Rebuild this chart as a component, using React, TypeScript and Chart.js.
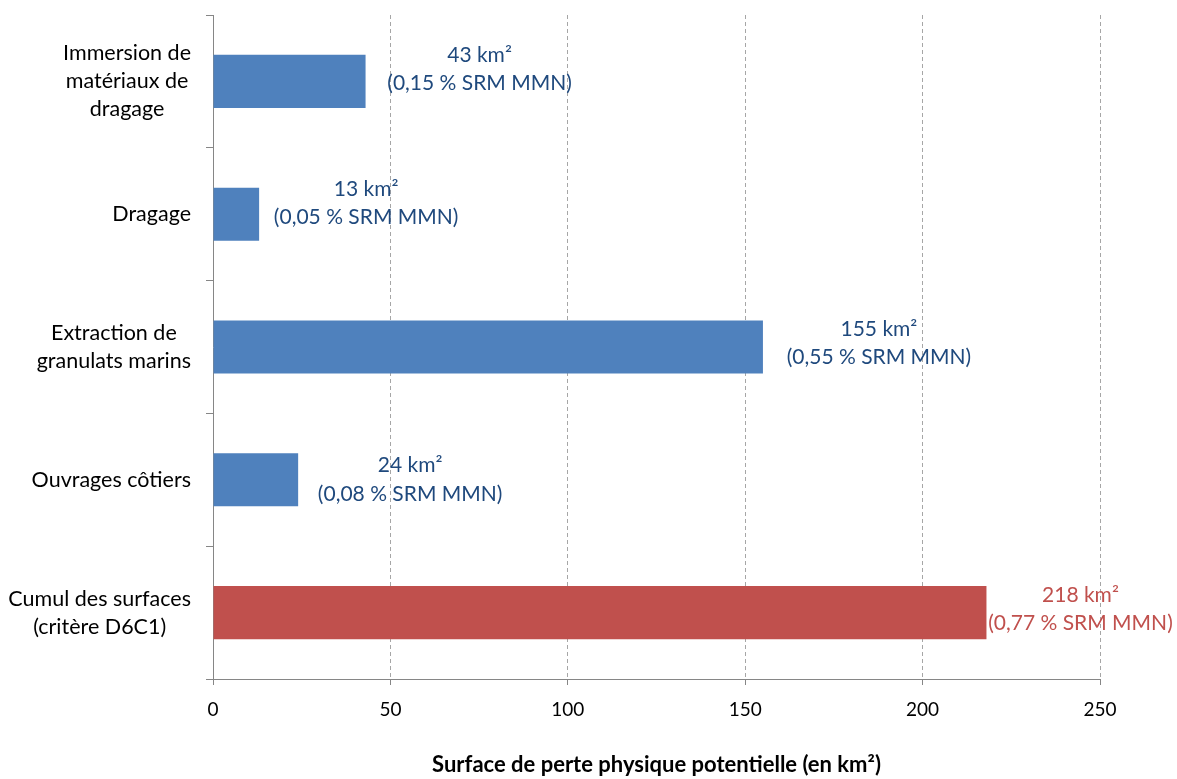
import React, { useEffect, useRef } from "react";
import { Chart, registerables } from "chart.js";

Chart.register(...registerables);

const categoryLines: string[][] = [
  ["Immersion de", "matériaux de", "dragage"],
  ["Dragage"],
  ["Extraction de", "granulats marins"],
  ["Ouvrages côtiers"],
  ["Cumul des surfaces", "(critère D6C1)"],
];
const surfaceKm2 = [43, 13, 155, 24, 218];
const shareSRM = ["0,15", "0,05", "0,55", "0,08", "0,77"];
const isTotal = [false, false, false, false, true];
const xTickStep = 50;
const xMax = 250;
const axisTitle = "Surface de perte physique potentielle (en km²)";

const FONT = "Lato, 'Open Sans', sans-serif";
const BLUE = "#4F81BD";
const RED = "#C0504D";
const BLUE_TEXT = "#1F497D";
const RED_TEXT = "#C0504D";
const AXIS = "#868686";
const GRID = "#A6A6A6";

const labelPlugin = {
  id: "customLabels",
  afterDatasetsDraw(chart: any) {
    const ctx = chart.ctx;
    const opts = chart.options.plugins.customLabels;
    const meta = chart.getDatasetMeta(0);
    const yScale = chart.scales.y;
    ctx.save();
    ctx.textAlign = "center";
    ctx.textBaseline = "middle";
    // category labels, each centred on its own widest line
    ctx.font = `${opts.catSize}px ${FONT}`;
    ctx.fillStyle = "#000000";
    categoryLines.forEach((lines, i) => {
      const cy = yScale.getPixelForValue(i);
      const w = Math.max(...lines.map((l) => ctx.measureText(l).width));
      const cx = opts.catRight - w / 2;
      lines.forEach((l, j) => {
        ctx.fillText(l, cx, cy + (j - (lines.length - 1) / 2) * opts.catGap);
      });
    });
    // data labels
    ctx.font = `${opts.valSize}px ${FONT}`;
    meta.data.forEach((bar: any, i: number) => {
      const [dx, dy] = opts.nudges[i];
      const cx = bar.x + dx;
      const cy = bar.y + dy;
      ctx.fillStyle = isTotal[i] ? RED_TEXT : BLUE_TEXT;
      ctx.fillText(`${surfaceKm2[i]} km²`, cx, cy - opts.valGap / 2);
      ctx.fillText(`(${shareSRM[i]} % SRM MMN)`, cx, cy + opts.valGap / 2);
    });
    ctx.restore();
  },
};

export default function App() {
  const ref = useRef<HTMLCanvasElement | null>(null);
  useEffect(() => {
    if (!ref.current) return;
    const chart = new Chart(ref.current, {
      type: "bar",
      data: {
        labels: categoryLines.map((l) => l.join(" ")),
        datasets: [
          {
            data: surfaceKm2,
            backgroundColor: isTotal.map((t) => (t ? RED : BLUE)),
            borderWidth: 0,
            barPercentage: 1,
            categoryPercentage: 0.4,
          },
        ],
      },
      options: {
        indexAxis: "y",
        animation: false,
        responsive: true,
        maintainAspectRatio: false,
        layout: { padding: { top: 15, right: 77, left: 0, bottom: 0 } },
        plugins: {
          legend: { display: false },
          tooltip: { enabled: false },
          customLabels: {
            catSize: 21.5,
            catGap: 28,
            catRight: 191,
            valSize: 21,
            valGap: 28.5,
            nudges: [
              [114, -12],
              [107, -11],
              [116, -4],
              [112, 0],
              [94, -3.5],
            ],
          },
        } as any,
        scales: {
          x: {
            type: "linear",
            min: 0,
            max: xMax,
            ticks: {
              stepSize: xTickStep,
              font: { family: FONT, size: 19 },
              color: "#000000",
              padding: 13,
            },
            grid: {
              color: (c: any) => (c.tick && c.tick.value === 0 ? "rgba(0,0,0,0)" : GRID),
              lineWidth: 1,
              tickLength: 6,
              tickColor: AXIS,
              tickWidth: 1,
            },
            border: { color: AXIS, width: 1, dash: [4, 3] },
            title: {
              display: true,
              text: axisTitle,
              font: { family: FONT, size: 22, weight: "bold" },
              color: "#000000",
              padding: { top: 0, bottom: 1 },
            },
            afterFit: (s: any) => {
              s.height = 100;
            },
          },
          y: {
            type: "category",
            offset: true,
            grid: {
              offset: true,
              drawOnChartArea: false,
              drawTicks: true,
              tickLength: 7,
              tickColor: AXIS,
              tickWidth: 1,
            },
            border: { color: AXIS, width: 1 },
            ticks: { display: false },
            afterFit: (s: any) => {
              s.width = 213;
            },
          },
        },
      } as any,
      plugins: [labelPlugin],
    });
    return () => chart.destroy();
  }, []);
  return (
    <div style={{ position: "fixed", left: 0, top: 0, width: 1177, height: 779, background: "#fff" }}>
      <canvas ref={ref} />
    </div>
  );
}
